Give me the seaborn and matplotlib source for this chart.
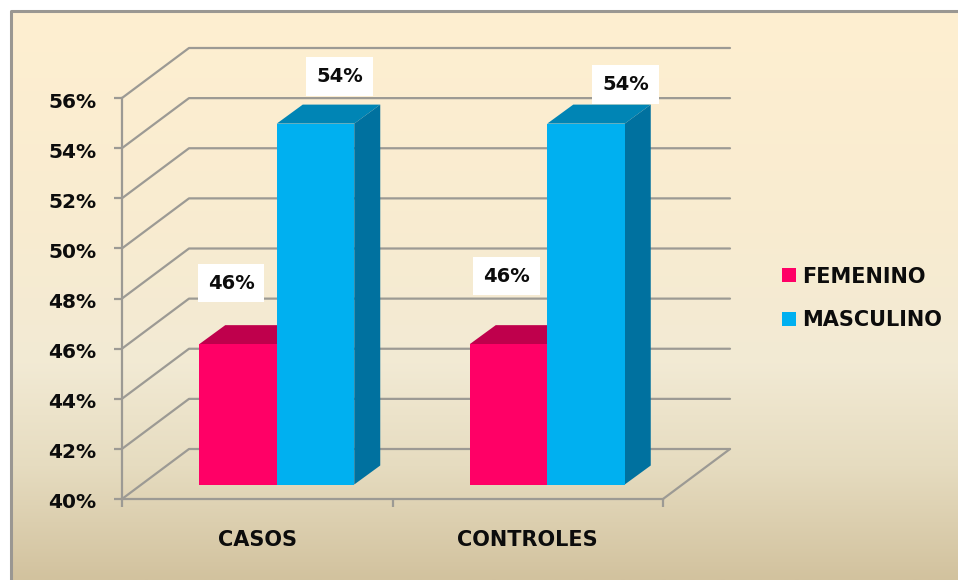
import matplotlib
matplotlib.use("Agg")
import matplotlib.pyplot as plt
import numpy as np
import pandas as pd
import seaborn as sns
from matplotlib.colors import LinearSegmentedColormap
from matplotlib.lines import Line2D
from matplotlib.patches import Polygon
from matplotlib.transforms import Affine2D, IdentityTransform

# -----------------------------
# Data
# -----------------------------
GROUPS = ["CASOS", "CONTROLES"]
SEXES = ["FEMENINO", "MASCULINO"]
FEMENINO = [45.6, 45.6]
MASCULINO = [54.4, 54.4]
Y_TICKS = [40, 42, 44, 46, 48, 50, 52, 54, 56]

# -----------------------------
# Style
# -----------------------------
W, H = 958, 580
FRONT_COLORS = ["#FF0066", "#00B0F0"]
TOP_COLORS = ["#BF004C", "#0085B5"]
SIDE_COLORS = ["#A60042", "#00719F"]
GRID_COLOR = "#9C9A94"
TEXT_COLOR = "#0C0C0C"
WALL_DEPTH = (67, 50)    # pixels, front plane to back wall
BAR_SHIFT = (19.5, 14.5)  # pixels, front plane to bar front
BAR_DEPTH = (26, 19)     # pixels
LABEL_OFFSETS = [(-7, 61), (-2, 68), (24, 47), (39.5, 39)]  # pixels from bar top

sns.set_style("white")
plt.rcParams["font.family"] = ["DejaVu Sans"]
plt.rcParams["font.weight"] = "bold"

fig = plt.figure(figsize=(W / 100, H / 100), dpi=100, facecolor="white")

# -----------------------------
# Background panel
# -----------------------------
bg = fig.add_axes([0, 0, 1, 1], zorder=0)
bg.set_xlim(0, W)
bg.set_ylim(H, 0)
bg.axis("off")
cmap = LinearSegmentedColormap.from_list(
    "panel",
    [(0, "#FEEFD1"), (0.35, "#F9ECD0"), (0.62, "#F2EAD4"), (0.8, "#E6DCC0"), (1, "#D2C29E")],
)
bg.imshow(np.linspace(0, 1, 256).reshape(-1, 1), cmap=cmap, aspect="auto",
          extent=(12, W, H, 11), zorder=0)
bg.set_xlim(0, W)
bg.set_ylim(H, 0)
bg.add_line(Line2D([11.5, 11.5, W], [H, 11, 11], color="#9A9792", lw=2.2, zorder=1))

# -----------------------------
# Chart plane (front of the 3D box)
# -----------------------------
ax = fig.add_axes([122 / W, 1 - 499 / H, 541 / W, 401 / H], zorder=1)
ax.patch.set_alpha(0)

df = pd.DataFrame({
    "grupo": GROUPS * 2,
    "sexo": [SEXES[0]] * len(GROUPS) + [SEXES[1]] * len(GROUPS),
    "valor": FEMENINO + MASCULINO,
})
sns.barplot(data=df, x="grupo", y="valor", hue="sexo", hue_order=SEXES,
            palette=FRONT_COLORS, width=0.573, saturation=1, linewidth=0,
            errorbar=None, ax=ax, zorder=3)

ax.set_xlim(-0.5, 1.5)
ax.set_ylim(Y_TICKS[0], Y_TICKS[-1])
ax.set_xlabel("")
ax.set_ylabel("")
ax.set_yticks(Y_TICKS)
ax.set_yticklabels([f"{v}%" for v in Y_TICKS], fontsize=14.5, color=TEXT_COLOR)
ax.set_xticks([-0.5, 0.5, 1.5])
ax.set_xticklabels([])
ax.set_xticks([0, 1], minor=True)
ax.set_xticklabels(GROUPS, minor=True, fontsize=15, color=TEXT_COLOR)
ax.tick_params(axis="y", length=5.5, width=1.6, color=GRID_COLOR, pad=13, left=True)
ax.tick_params(axis="x", which="major", length=6, width=1.6, color=GRID_COLOR, bottom=True)
ax.tick_params(axis="x", which="minor", length=0, pad=22.5)
for name, spine in ax.spines.items():
    spine.set_visible(name in ("left", "bottom"))
    spine.set_color(GRID_COLOR)
    spine.set_linewidth(1.6)

# y labels sit a little under their ticks in the original
for label in ax.get_yticklabels():
    label.set_transform(label.get_transform() + Affine2D().translate(0, -2))

# back wall and floor lines, from the y scale
to_px = ax.transData.transform
dx, dy = WALL_DEPTH
for v in Y_TICKS:
    x0, y0 = to_px((-0.5, v))
    x1, _ = to_px((1.5, v))
    ax.add_line(Line2D([x0, x0 + dx, x1 + dx], [y0, y0 + dy, y0 + dy],
                       transform=IdentityTransform(), color=GRID_COLOR, lw=1.6,
                       clip_on=False, zorder=1))
x1, y1 = to_px((1.5, Y_TICKS[0]))
ax.add_line(Line2D([x1, x1 + dx], [y1, y1 + dy], transform=IdentityTransform(),
                   color=GRID_COLOR, lw=1.6, clip_on=False, zorder=1))

# -----------------------------
# Bars: shift onto the floor, add top and side faces
# -----------------------------
shift = Affine2D().translate(*BAR_SHIFT)
bd_x, bd_y = BAR_DEPTH
bars = [b for c in ax.containers for b in c]
for i, bar in enumerate(bars):
    hue_i = i // len(GROUPS)
    top = bar.get_height()
    bar.set_y(Y_TICKS[0])
    bar.set_height(top - Y_TICKS[0])
    bar.set_transform(ax.transData + shift)
    bar.set_clip_on(False)

    xl, yb = shift.transform(to_px((bar.get_x(), Y_TICKS[0])))
    xr, yt = shift.transform(to_px((bar.get_x() + bar.get_width(), top)))
    ax.add_patch(Polygon([(xl, yt), (xr, yt), (xr + bd_x, yt + bd_y), (xl + bd_x, yt + bd_y)],
                         transform=IdentityTransform(), facecolor=TOP_COLORS[hue_i],
                         lw=0, clip_on=False, zorder=2))
    ax.add_patch(Polygon([(xr, yb), (xr + bd_x, yb + bd_y), (xr + bd_x, yt + bd_y), (xr, yt)],
                         transform=IdentityTransform(), facecolor=SIDE_COLORS[hue_i],
                         lw=0, clip_on=False, zorder=2))

    px = (xl + xr) / 2 + LABEL_OFFSETS[i][0]
    py = yt + LABEL_OFFSETS[i][1]
    ax.text(px, py, f"{top:.0f}%", transform=IdentityTransform(), ha="center", va="center",
            fontsize=14, color=TEXT_COLOR, clip_on=False, zorder=5,
            bbox=dict(boxstyle="square,pad=0.5", facecolor="white", edgecolor="none"))

# -----------------------------
# Legend
# -----------------------------
ax.legend(title=None, frameon=False, loc="center left",
          bbox_to_anchor=(782 / W, 1 - 298.5 / H), bbox_transform=fig.transFigure,
          borderaxespad=0, borderpad=0, fontsize=15, labelcolor=TEXT_COLOR,
          handlelength=0.65, handleheight=0.65, handletextpad=0.3, labelspacing=1.14)

fig.savefig("out.png", dpi=100, facecolor="white")
plt.close(fig)
